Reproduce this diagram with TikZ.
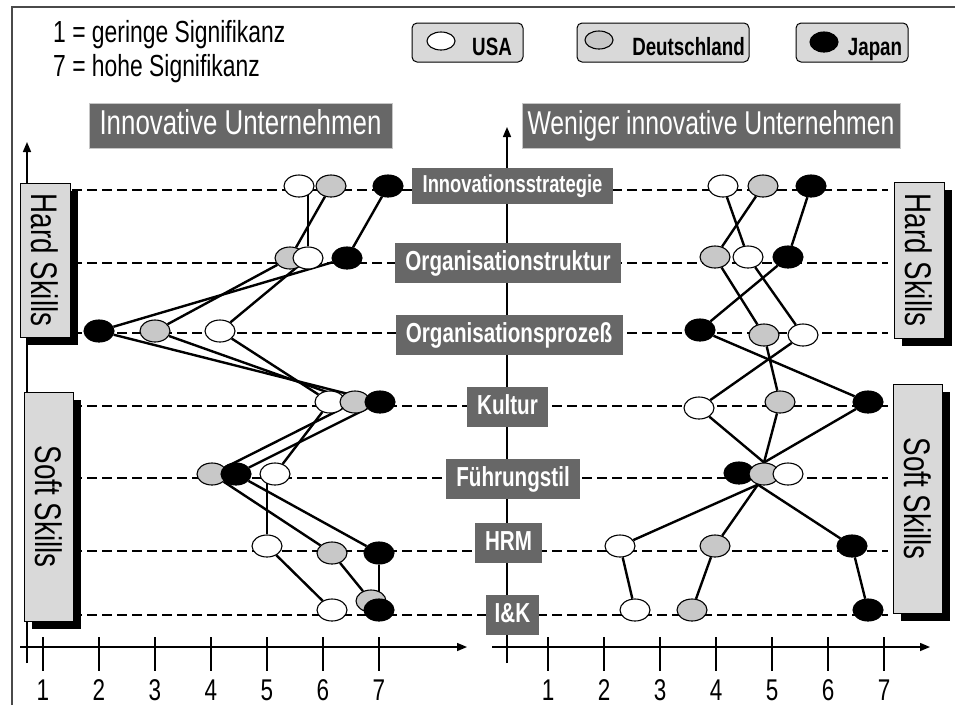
\documentclass[tikz,border=0pt]{standalone}
\usepackage{fontspec}
\usepackage{graphicx}
\setmainfont{Liberation Sans}[FakeStretch=0.75]
\usetikzlibrary{shapes.geometric,arrows.meta,shadows}
\pgfdeclarelayer{grid}
\pgfdeclarelayer{links}
\pgfsetlayers{grid,links,main}

\definecolor{panelgray}{HTML}{676767}
\definecolor{boxgray}{HTML}{D9D9D9}
\definecolor{dotgray}{HTML}{C8C8C8}
\definecolor{framegray}{HTML}{4A4A4A}

\newcommand{\fsz}[1]{\fontsize{#1}{#1}\selectfont}

\begin{document}
\begin{tikzpicture}[x=1pt,y=-1pt,
  dot/.style={ellipse, draw=black, line width=1.1pt, minimum width=30pt, minimum height=22pt, inner sep=0pt},
  us/.style={dot, fill=white},
  de/.style={dot, fill=dotgray},
  jp/.style={dot, fill=black},
  smalldot/.style={dot, minimum width=28pt, minimum height=18pt},
  link/.style={line width=2.4pt},
  rowline/.style={dash pattern=on 10pt off 5pt, line width=2.3pt},
  rowlabel/.style={fill=panelgray, text=white, font=\bfseries\fsz{27.5}, inner sep=0pt,
    minimum height=40pt, text height=20pt, text depth=5pt},
  header/.style={fill=panelgray, draw=gray!45, line width=0.8pt, text=white, inner sep=0pt,
    minimum height=45pt, font=\fsz{33}, text height=24pt, text depth=6pt},
  skillbox/.style={fill=boxgray, draw=black, line width=1pt, inner sep=0pt, font=\fsz{37},
    drop shadow={shadow xshift=8pt, shadow yshift=-8pt, opacity=1, fill=black}},
  legendbox/.style={fill=boxgray, draw=black, line width=1pt, rounded corners=5pt, inner sep=0pt, minimum height=39pt},
  legendtext/.style={font=\bfseries\fsz{25}, anchor=base, inner sep=0pt},
  scaletext/.style={font=\fsz{30.5}, anchor=base west, inner sep=0pt},
  axis/.style={line width=1.5pt, -{Triangle[length=10pt,width=8pt]}},
  tickmark/.style={line width=1.2pt},
  ticklabel/.style={font=\fsz{30}, anchor=base, inner sep=0pt},
]
\useasboundingbox (0,0) rectangle (955,705);
\clip (0,0) rectangle (955,705);

% outer frame (top and left edge)
\draw[framegray, line width=2pt] (12,705) -- (12,7) -- (955,7);

% scale legend
\node[scaletext] (scale1) at (53,42) {1 = geringe Signifikanz};
\node[scaletext] (scale7) at (53,76) {7 = hohe Signifikanz};

% country legend
\node[legendbox, minimum width=111pt] (lgUSbox) at (467.5,42.5) {};
\node[legendbox, minimum width=172pt] (lgDEbox) at (663,42.5) {};
\node[legendbox, minimum width=112pt] (lgJPbox) at (852,42.5) {};
\node[smalldot, fill=white] (lgUS) at (441,41) {};
\node[smalldot, fill=dotgray] (lgDE) at (599,40) {};
\node[smalldot, fill=black, minimum height=20pt] (lgJP) at (824,42) {};
\node[legendtext] (lgUStext) at (492,55) {USA};
\node[legendtext] (lgDEtext) at (688.5,55) {Deutschland};
\node[legendtext] (lgJPtext) at (875,55) {Japan};

% panel headers
\node[header, font=\fsz{34.5}, minimum width=303pt] (hdL) at (240.5,125.5) {Innovative Unternehmen};
\node[header, minimum width=378pt] (hdR) at (711,125.5) {Weniger innovative Unternehmen};

% axes, ticks and row guides
\begin{pgfonlayer}{grid}
  \draw[axis] (27,663) -- (27,142);
  \draw[axis] (20,647) -- (467,647);
  \draw[axis] (507,663) -- (507,127);
  \draw[axis] (492,647) -- (930,647);
  \foreach \v in {1,...,7}{
    \draw[tickmark] (-13+56*\v,637) -- (-13+56*\v,671);
    \draw[tickmark] (492+56*\v,637) -- (492+56*\v,671);
  }
  \foreach \yy in {190,263,333,406,478,551,615}
    \draw[rowline] (72,\yy) -- (888,\yy);
\end{pgfonlayer}
\foreach \v in {1,...,7}{
  \node[ticklabel] (tl\v) at (-13+56*\v,700) {\v};
  \node[ticklabel] (tr\v) at (492+56*\v,700) {\v};
}

% left panel: innovative companies
\node[us] (L-us-1) at (299,186) {};
\node[de] (L-de-1) at (331,186) {};
\node[jp] (L-jp-1) at (388,186) {};
\node[de] (L-de-2) at (290,258) {};
\node[us] (L-us-2) at (308,258) {};
\node[jp] (L-jp-2) at (347,258) {};
\node[jp] (L-jp-3) at (99,331) {};
\node[de] (L-de-3) at (155,331) {};
\node[us] (L-us-3) at (220,331) {};
\node[us] (L-us-4) at (330,402) {};
\node[de] (L-de-4) at (355,402) {};
\node[jp] (L-jp-4) at (380,402) {};
\node[de] (L-de-5) at (212,474) {};
\node[jp] (L-jp-5) at (236,474) {};
\node[us] (L-us-5) at (275,474) {};
\node[us] (L-us-6) at (267,546) {};
\node[de] (L-de-6) at (332,553) {};
\node[jp] (L-jp-6) at (379,553) {};
\node[us] (L-us-7) at (332,610) {};
\node[de] (L-de-7) at (371,601) {};
\node[jp] (L-jp-7) at (379,610) {};

% right panel: less innovative companies
\node[us] (R-us-1) at (723,186) {};
\node[de] (R-de-1) at (763,186) {};
\node[jp] (R-jp-1) at (811,186) {};
\node[de] (R-de-2) at (715,257) {};
\node[us] (R-us-2) at (748,257) {};
\node[jp] (R-jp-2) at (788,257) {};
\node[jp] (R-jp-3) at (700,330) {};
\node[de] (R-de-3) at (764,335) {};
\node[us] (R-us-3) at (803,335) {};
\node[us] (R-us-4) at (699,408) {};
\node[de] (R-de-4) at (780,402) {};
\node[jp] (R-jp-4) at (868,402) {};
\node[jp] (R-jp-5) at (739,473) {};
\node[de] (R-de-5) at (764,474) {};
\node[us] (R-us-5) at (788,474) {};
\node[us] (R-us-6) at (620,546) {};
\node[de] (R-de-6) at (715,546) {};
\node[jp] (R-jp-6) at (852,546) {};
\node[us] (R-us-7) at (635,610) {};
\node[de] (R-de-7) at (692,610) {};
\node[jp] (R-jp-7) at (868,610) {};

% profile lines
\begin{pgfonlayer}{links}
  % left panel
  \draw[link] (L-us-1 -| L-us-2) -- (L-us-2);
  \draw[link] (L-de-1) -- (L-de-2);
  \draw[link] (L-jp-1) -- (L-jp-2);
  \foreach \c in {us,de,jp}{
    \draw[link] (L-\c-2) -- (L-\c-3);
    \draw[link] (L-\c-3) -- (L-\c-4);
    \draw[link] (L-\c-4) -- (L-\c-5);
  }
  \draw[link] (L-us-5 -| L-us-6) -- (L-us-6);
  \draw[link] (L-de-5) -- (L-de-6);
  \draw[link] (L-jp-5) -- (L-jp-6);
  \foreach \c in {us,de,jp}
    \draw[link] (L-\c-6) -- (L-\c-7);
  % right panel
  \foreach \c in {us,de,jp}{
    \draw[link] (R-\c-1) -- (R-\c-2);
    \draw[link] (R-\c-2) -- (R-\c-3);
    \draw[link] (R-\c-3) -- (R-\c-4);
    \draw[link] (R-\c-4) -- (R-de-5.north);
    \draw[link] (R-de-5.240) -- (R-\c-6);
    \draw[link] (R-\c-6) -- (R-\c-7);
  }
\end{pgfonlayer}

% criteria labels on the centre axis
\node[rowlabel, font=\bfseries\fsz{24.5}, minimum width=201pt, minimum height=36pt,
  text height=18pt, text depth=4.5pt] (strat) at (512.5,186) {Innovationsstrategie};
\node[rowlabel, minimum width=226pt] (struk) at (508,263) {Organisationstruktur};
\node[rowlabel, minimum width=227pt] (proz) at (509,334.5) {Organisationsprozeß};
\node[rowlabel, minimum width=81pt] (kult) at (507.5,407) {Kultur};
\node[rowlabel, minimum width=134pt] (fuehr) at (513,478.5) {Führungstil};
\node[rowlabel, minimum width=67pt] (hrm) at (508.5,543) {HRM};
\node[rowlabel, minimum width=53pt] (iuk) at (512.5,615) {I\&K};

% skill group boxes
\node[skillbox, minimum width=50pt, minimum height=154pt] (hardL) at (45,260) {\rotatebox{-90}{Hard Skills}};
\node[skillbox, minimum width=49pt, minimum height=229pt] (softL) at (48.5,506.5) {\rotatebox{-90}{Soft Skills}};
\node[skillbox, minimum width=50pt, minimum height=156pt] (hardR) at (919,260) {\rotatebox{-90}{Hard Skills}};
\node[skillbox, minimum width=49pt, minimum height=229pt] (softR) at (917.5,498.5) {\rotatebox{-90}{Soft Skills}};
\end{tikzpicture}
\end{document}
